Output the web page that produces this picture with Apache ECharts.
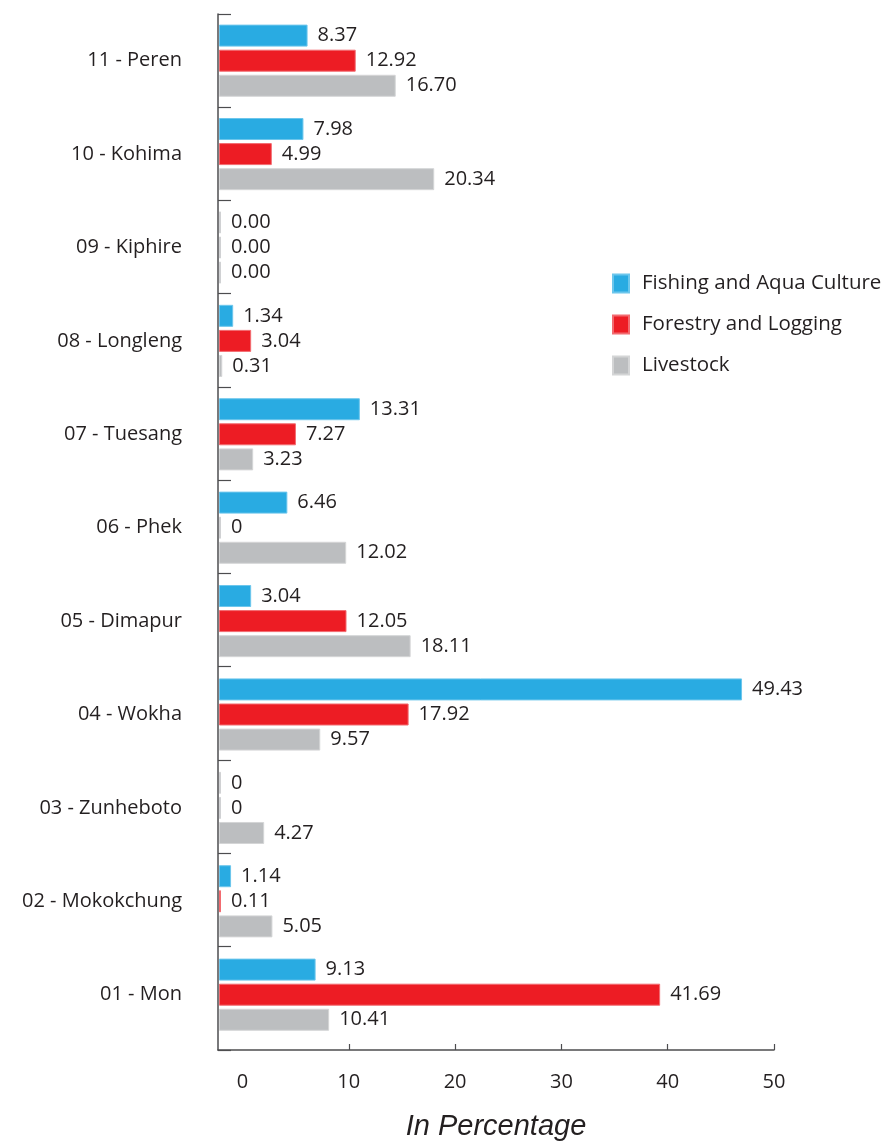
<!DOCTYPE html>
<html>
<head>
<meta charset="utf-8">
<script src="https://cdn.jsdelivr.net/npm/echarts@6/dist/echarts.min.js"></script>
<style>
html,body{margin:0;padding:0;background:#fff;}
#chart{width:889px;height:1146px;}
</style>
</head>
<body>
<div id="chart"></div>
<script>
const categories = ['01 - Mon','02 - Mokokchung','03 - Zunheboto','04 - Wokha','05 - Dimapur','06 - Phek','07 - Tuesang','08 - Longleng','09 - Kiphire','10 - Kohima','11 - Peren'];
const fishingLabels   = ['9.13','1.14','0','49.43','3.04','6.46','13.31','1.34','0.00','7.98','8.37'];
const forestryLabels  = ['41.69','0.11','0','17.92','12.05','0','7.27','3.04','0.00','4.99','12.92'];
const livestockLabels = ['10.41','5.05','4.27','9.57','18.11','12.02','3.23','0.31','0.00','20.34','16.70'];
const seriesNames = ['Fishing and Aqua Culture','Forestry and Logging','Livestock'];
const xTickLabels = [0,10,20,30,40,50];

const FONT = "'Open Sans', sans-serif";
const TEXT = '#231f20';
const AXIS = '#4d4d4f';
const colors = ['#29abe2','#ed1c24','#bcbec0'];
const borders = ['#6cc6ec','#f26b70','#d4d5d6'];
const stubColor = '#d0d1d3';

function makeSeries(idx, labels){
  return {
    name: seriesNames[idx],
    type: 'bar',
    xAxisIndex: 0, yAxisIndex: 0,
    barWidth: 22,
    barGap: '14%',
    barMinHeight: 2,
    data: labels.map(function(s){
      const v = Number(s);
      return v === 0
        ? {value: v, itemStyle: {color: stubColor, borderColor: stubColor}}
        : v;
    }),
    itemStyle: {color: colors[idx], borderColor: borders[idx], borderWidth: 1},
    label: {
      show: true, position: 'right', distance: 10,
      fontFamily: FONT, fontSize: 20, color: TEXT,
      formatter: function(p){ return labels[p.dataIndex]; }
    },
    emphasis: {disabled: true},
    animation: false
  };
}

const chart = echarts.init(document.getElementById('chart'), null, {renderer: 'canvas'});
chart.setOption({
  backgroundColor: '#fff',
  animation: false,
  legend: {
    orient: 'vertical',
    left: 607, top: 268,
    icon: 'rect',
    itemWidth: 16, itemHeight: 18,
    itemGap: 20,
    data: seriesNames,
    textStyle: {fontFamily: FONT, fontSize: 20.5, color: TEXT, lineHeight: 20, padding: [0,0,0,8]},
    selectedMode: false
  },
  grid: [
    {left: 219, right: 115, top: 14, bottom: 104.6, containLabel: false},
    {left: 218, right: 115, top: 14, bottom: 94, containLabel: false}
  ],
  xAxis: [
    {type: 'value', gridIndex: 0, min: 0, max: 52.45, show: false},
    {
      type: 'value', gridIndex: 1, min: -2.3, max: 50,
      axisLine: {show: true, onZero: false, lineStyle: {color: AXIS, width: 1.5}},
      axisTick: {show: true, inside: true, length: 6, lineStyle: {color: AXIS, width: 1.2}, customValues: xTickLabels.slice(1)},
      axisLabel: {show: true, margin: 22, fontFamily: FONT, fontSize: 20, color: TEXT, lineHeight: 20, customValues: xTickLabels},
      splitLine: {show: false},
      name: 'In Percentage',
      nameLocation: 'middle',
      nameGap: 62,
      nameTextStyle: {fontFamily: "'Liberation Sans', Arial, sans-serif", fontStyle: 'italic', fontSize: 29, color: TEXT, lineHeight: 29}
    }
  ],
  yAxis: [
    {
      type: 'category', gridIndex: 0, data: categories,
      axisLine: {show: false},
      axisTick: {show: false},
      axisLabel: {margin: 37, fontFamily: FONT, fontSize: 20, color: TEXT}
    },
    {
      type: 'value', gridIndex: 1, min: -0.11, max: 11,
      axisLine: {show: true, onZero: false, lineStyle: {color: AXIS, width: 1.5}},
      axisTick: {show: true, inside: true, length: 13, lineStyle: {color: AXIS, width: 1.2}, customValues: [-0.11,1,2,3,4,5,6,7,8,9,10,11]},
      axisLabel: {show: false},
      splitLine: {show: false}
    }
  ],
  series: [
    makeSeries(0, fishingLabels),
    makeSeries(1, forestryLabels),
    makeSeries(2, livestockLabels)
  ]
});
</script>
</body>
</html>
